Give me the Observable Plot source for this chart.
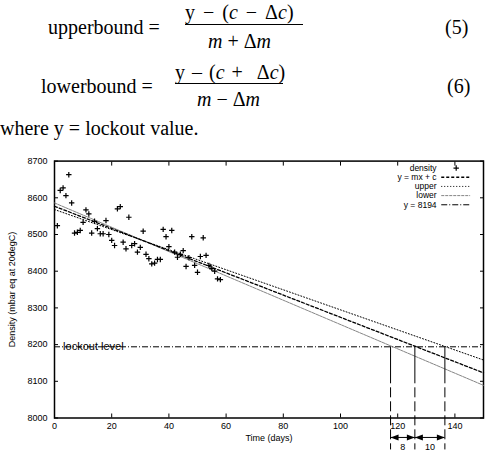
<!DOCTYPE html>
<html>
<head>
<meta charset="utf-8">
<script src="https://cdn.jsdelivr.net/npm/d3@7"></script>
<script src="https://cdn.jsdelivr.net/npm/@observablehq/plot@0.6"></script>
<style>
  html, body { margin: 0; padding: 0; background: #fff; }
  #eq { position: relative; width: 488px; height: 150px; overflow: hidden;
        font-family: "Liberation Serif", "DejaVu Serif", serif; font-size: 20px; line-height: 20px; color: #000; }
  #eq span { position: absolute; white-space: pre; }
  #eq .bar { position: absolute; height: 1px; background: #000; }
  #chart svg { display: block; }
</style>
</head>
<body>
<div id="eq">
  <span style="left:48px;top:17px;">upperbound =</span>
  <span style="left:185px;top:2px;word-spacing:3px;">y − (<i>c</i> − Δ<i>c</i>)</span>
  <div class="bar" style="left:185px;top:24px;width:118px;"></div>
  <span style="left:208px;top:31px;"><i>m</i> + Δ<i>m</i></span>
  <span style="left:445px;top:17px;">(5)</span>

  <span style="left:41px;top:76px;">lowerbound =</span>
  <span style="left:175px;top:62px;word-spacing:2px;">y – (<i>c</i> +  Δ<i>c</i>)</span>
  <div class="bar" style="left:175px;top:83px;width:108px;"></div>
  <span style="left:197px;top:89px;"><i>m</i> − Δ<i>m</i></span>
  <span style="left:447px;top:76px;">(6)</span>

  <span style="left:0px;top:118px;">where y = lockout value.</span>
</div>
<div id="chart"></div>
<script>
// ---- data ----
const days = [1,2,3,4,5,6,7,8,9,10,11,12,13,14,15,16,17,18,19,20,21,22,23,24,25,26,27,28,29,30,31,32,33,34,35,36,37,38,39,40,41,42,43,44,45,46,47,48,49,50,51,52,53,54,55,56,57,58];
const density = [8524,8620,8627,8606,8663,8586,8504,8506,8511,8533,8567,8556,8504,8536,8516,8502,8502,8538,8500,8484,8470,8570,8576,8479,8461,8547,8470,8475,8452,8465,8509,8446,8434,8420,8422,8432,8432,8514,8494,8467,8511,8452,8438,8446,8456,8413,8437,8494,8416,8397,8440,8491,8443,8416,8407,8400,8379,8377];
const lineDays = [0, 150];
const fitDensity = [8577, 8123];     // y = mx + c
const upperDensity = [8568, 8158];   // upper
const lowerDensity = [8586, 8089];   // lower
const lockout = 8194;
const boundDays = [117.5, 126, 136.5];
const gapLabels = ["8", "10"];
const xTicks = [0, 20, 40, 60, 80, 100, 120, 140];
const yTicks = [8000, 8100, 8200, 8300, 8400, 8500, 8600, 8700];
const legendLabels = ["density", "y = mx + c", "upper", "lower", "y = 8194"];

// ---- symbols ----
const plusSym = { draw(ctx) { const h = 2.7; ctx.moveTo(-h, 0); ctx.lineTo(h, 0); ctx.moveTo(0, -h); ctx.lineTo(0, h); } };
const headRight = { draw(ctx) { ctx.moveTo(0, 0); ctx.lineTo(-8, -3); ctx.lineTo(-8, 3); ctx.closePath(); } };
const headLeft = { draw(ctx) { ctx.moveTo(0, 0); ctx.lineTo(8, -3); ctx.lineTo(8, 3); ctx.closePath(); } };

const pts = days.map((d, i) => ({ day: d, density: density[i] }));
const mkLine = (ys) => lineDays.map((d, i) => ({ day: d, v: ys[i] }));

const styles = {
  fit:   { stroke: "#000", strokeWidth: 1.3, strokeDasharray: "3,2" },
  upper: { stroke: "#000", strokeWidth: 1, strokeDasharray: "1,2" },
  lower: { stroke: "#777", strokeWidth: 0.9, strokeDasharray: "3,1" },
  lock:  { stroke: "#000", strokeWidth: 1, strokeDasharray: "6,2,1,2" }
};

// legend layout (in chart units)
const legTextX = 133.6, legSampleX1 = 135.4, legSampleX2 = 145.5, legTopY = 8681, legStep = 25;
const legY = legendLabels.map((_, i) => legTopY - i * legStep);
const legendStyles = [null, styles.fit, styles.upper, styles.lower, styles.lock];

const gaps = gapLabels.map((t, i) => ({ x1: boundDays[i], x2: boundDays[i + 1], t }));
const arrowY = 7947, gapLabelY = 7922, dropY = 7913;

const marks = [
  Plot.frame({ stroke: "#000", strokeWidth: 1.5 }),
  Plot.axisX({ anchor: "bottom", ticks: xTicks, tickSize: -4, tickPadding: 9, label: null }),
  Plot.axisX({ anchor: "top", ticks: xTicks, tickSize: -4, tickFormat: () => "", label: null }),
  Plot.axisY({ anchor: "left", ticks: yTicks, tickSize: -4, tickPadding: 11, tickFormat: d => String(d), label: null }),
  Plot.axisY({ anchor: "right", ticks: yTicks, tickSize: -4, tickFormat: () => "", label: null }),
  Plot.text(["Density (mbar eq at 20degC)"], { frameAnchor: "left", rotate: -90, dx: -42, textAnchor: "middle", lineAnchor: "middle", text: d => d, fontSize: 9 }),
  Plot.text(["Time (days)"], { frameAnchor: "bottom", dy: 20.5, textAnchor: "middle", lineAnchor: "middle", text: d => d, fontSize: 9 }),
  Plot.ruleY([lockout], { ...styles.lock }),
  Plot.text(["lockout level"], { x: 3, y: lockout, text: d => d, textAnchor: "start", lineAnchor: "bottom", dy: 3, fontSize: 11 }),
  Plot.line(mkLine(lowerDensity), { x: "day", y: "v", ...styles.lower }),
  Plot.line(mkLine(upperDensity), { x: "day", y: "v", ...styles.upper }),
  Plot.line(mkLine(fitDensity), { x: "day", y: "v", ...styles.fit }),
  Plot.dot(pts, { x: "day", y: "density", symbol: plusSym, stroke: "#000", strokeWidth: 1.2, fill: "none", r: 3 }),
  Plot.ruleX(boundDays, { x: d => d, y1: lockout, y2: dropY, stroke: "#000", strokeWidth: 1, strokeDasharray: "37,4,10,4,10,4,10,4,10,4,10", clip: false }),
  Plot.ruleY(gaps, { x1: "x1", x2: "x2", y: arrowY, stroke: "#000", strokeWidth: 1 }),
  Plot.dot(gaps, { x: "x2", y: arrowY, symbol: headRight, fill: "#000", stroke: "none", r: 3 }),
  Plot.dot(gaps, { x: "x1", y: arrowY, symbol: headLeft, fill: "#000", stroke: "none", r: 3 }),
  Plot.text(gaps, { x: d => (d.x1 + d.x2) / 2, y: gapLabelY, text: "t", fontSize: 9 }),
  // legend
  Plot.text(legendLabels, { x: legTextX, y: (d, i) => legY[i], text: d => d, textAnchor: "end", fontSize: 8.5 }),
  Plot.dot([0], { x: (legSampleX1 + legSampleX2) / 2, y: legY[0], symbol: plusSym, stroke: "#000", strokeWidth: 1.2, fill: "none", r: 3 }),
  ...legendStyles.slice(1).map((s, j) =>
    Plot.ruleY([legY[j + 1]], { y: d => d, x1: legSampleX1, x2: legSampleX2, ...s }))
];

const chart = Plot.plot({
  width: 488, height: 304,
  marginLeft: 54, marginRight: 5, marginTop: 10.6, marginBottom: 36.5,
  x: { domain: [0, 150] },
  y: { domain: [8000, 8700] },
  style: { fontFamily: "'Liberation Sans', Arial, sans-serif", fontSize: "9px", color: "#000", background: "#fff", overflow: "visible" },
  marks
});
document.getElementById("chart").append(chart);
</script>
</body>
</html>
